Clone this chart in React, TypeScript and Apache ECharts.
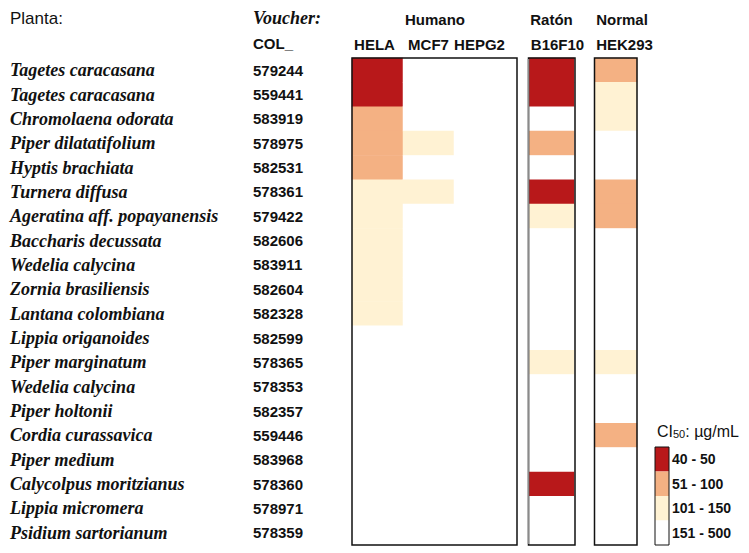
import React, { useEffect, useRef } from "react";
import * as echarts from "echarts";

// ---- data ----
const species = [
  "Tagetes caracasana",
  "Tagetes caracasana",
  "Chromolaena odorata",
  "Piper dilatatifolium",
  "Hyptis brachiata",
  "Turnera diffusa",
  "Ageratina aff. popayanensis",
  "Baccharis decussata",
  "Wedelia calycina",
  "Zornia brasiliensis",
  "Lantana colombiana",
  "Lippia origanoides",
  "Piper marginatum",
  "Wedelia calycina",
  "Piper holtonii",
  "Cordia curassavica",
  "Piper medium",
  "Calycolpus moritzianus",
  "Lippia micromera",
  "Psidium sartorianum",
];
const vouchers = [
  "579244", "559441", "583919", "578975", "582531", "578361", "579422", "582606", "583911", "582604",
  "582328", "582599", "578365", "578353", "582357", "559446", "583968", "578360", "578971", "578359",
];
const humanLines = ["HELA", "MCF7", "HEPG2"];
const mouseLines = ["B16F10"];
const normalLines = ["HEK293"];

const hela = [45, 45, 75, 75, 75, 125, 125, 125, 125, 125, 125, 300, 300, 300, 300, 300, 300, 300, 300, 300];
const mcf7 = [300, 300, 300, 125, 300, 125, 300, 300, 300, 300, 300, 300, 300, 300, 300, 300, 300, 300, 300, 300];
const hepg2 = [300, 300, 300, 300, 300, 300, 300, 300, 300, 300, 300, 300, 300, 300, 300, 300, 300, 300, 300, 300];
const b16f10 = [45, 45, 300, 75, 300, 45, 125, 300, 300, 300, 300, 300, 125, 300, 300, 300, 300, 45, 300, 300];
const hek293 = [75, 125, 125, 300, 300, 75, 75, 300, 300, 300, 300, 300, 125, 300, 300, 75, 300, 300, 300, 300];

const legendPieces = [
  { min: 40, max: 50, label: "40 - 50" },
  { min: 51, max: 100, label: "51 - 100" },
  { min: 101, max: 150, label: "101 - 150" },
  { min: 151, max: 500, label: "151 - 500" },
];

// ---- styles ----
const COLORS = ["#B8181A", "#F4B183", "#FFF2D3", "#FFFFFF"];
const SANS = "'Liberation Sans', Arial, sans-serif";
const SERIF = "'Liberation Serif', 'Times New Roman', serif";
const INK = "#111111";
const TOP = 58;
const H = 487;

function toCells(cols: number[][]) {
  const out: number[][] = [];
  cols.forEach((col, x) => col.forEach((v, y) => out.push([x, y, v])));
  return out;
}

export default function App() {
  const ref = useRef<HTMLDivElement>(null);
  useEffect(() => {
    if (!ref.current) return;
    const chart = echarts.init(ref.current, null, { renderer: "svg" });
    const headLabel = { fontFamily: SANS, fontWeight: "bold" as const, fontSize: 15, color: INK };
    const hiddenY = (gridIndex: number) => ({
      type: "category" as const,
      gridIndex,
      data: vouchers,
      inverse: true,
      show: false,
    });
    const topX = (gridIndex: number, data: any[], name: string, namePad: number[], labelPad: number[]) => ({
      type: "category" as const,
      gridIndex,
      position: "top" as const,
      data,
      name,
      nameLocation: "middle" as const,
      nameGap: 31,
      nameTextStyle: { ...headLabel, padding: namePad },
      axisLine: { show: false },
      axisTick: { show: false },
      splitLine: { show: false },
      axisLabel: { ...headLabel, margin: 6, padding: labelPad, interval: 0 },
    });
    const heat = (xAxisIndex: number, yAxisIndex: number, cols: number[][]) => ({
      type: "heatmap" as const,
      xAxisIndex,
      yAxisIndex,
      data: toCells(cols),
      itemStyle: { borderWidth: 0 },
      emphasis: { disabled: true },
      silent: true,
    });
    chart.setOption({
      animation: false,
      backgroundColor: "#ffffff",
      grid: [
        { left: 352, top: TOP, width: 153, height: H },
        { left: 529, top: TOP, width: 45, height: H },
        { left: 595, top: TOP, width: 42, height: H },
      ],
      xAxis: [
        topX(
          0,
          [
            { value: humanLines[0], textStyle: { padding: [0, 6, 0, 0] } },
            humanLines[1],
            humanLines[2],
          ],
          "Humano",
          [0, 0, 0, 13],
          [0, 0, 0, 0]
        ),
        topX(1, mouseLines, "Ratón", [0, 0, 0, 0], [0, 0, 0, 12]),
        topX(2, normalLines, "Normal", [0, 0, 0, 12], [0, 0, 0, 17]),
      ],
      yAxis: [
        {
          type: "category",
          gridIndex: 0,
          position: "left",
          data: vouchers,
          inverse: true,
          axisLine: { show: false },
          axisTick: { show: false },
          splitLine: { show: false },
          axisLabel: { ...headLabel, align: "left", margin: 99, interval: 0 },
        },
        {
          type: "category",
          gridIndex: 0,
          position: "left",
          offset: 0,
          data: vouchers,
          inverse: true,
          axisLine: { show: false },
          axisTick: { show: false },
          splitLine: { show: false },
          axisLabel: {
            fontFamily: SERIF,
            fontStyle: "italic",
            fontWeight: "bold",
            fontSize: 18,
            color: INK,
            align: "left",
            margin: 342,
            interval: 0,
            formatter: (_v: string, i: number) => species[i],
          },
        },
        hiddenY(1),
        hiddenY(2),
      ],
      visualMap: {
        type: "piecewise",
        seriesIndex: [0, 1, 2],
        pieces: legendPieces.map((p, i) => ({ ...p, color: COLORS[i] })),
        orient: "vertical",
        inverse: true,
        left: 655,
        top: 447,
        padding: 0,
        itemWidth: 14,
        itemHeight: 24.5,
        itemGap: 0,
        itemSymbol: "rect",
        textGap: 3,
        align: "left",
        hoverLink: false,
        selectedMode: false,
        textStyle: { fontFamily: SANS, fontWeight: "bold", fontSize: 14, color: INK },
      },
      series: [
        heat(0, 0, [hela, mcf7, hepg2]),
        heat(1, 2, [b16f10]),
        heat(2, 3, [hek293]),
      ],
      graphic: [
        {
          type: "text",
          left: 10,
          top: 10,
          style: { text: "Planta:", fontFamily: SANS, fontSize: 17, fill: INK },
        },
        {
          type: "text",
          left: 253,
          top: 9,
          style: {
            text: "Voucher:",
            fontFamily: SERIF,
            fontStyle: "italic",
            fontWeight: "bold",
            fontSize: 18,
            fill: INK,
          },
        },
        {
          type: "text",
          left: 253,
          top: 36,
          style: { text: "COL_", fontFamily: SANS, fontWeight: "bold", fontSize: 15, fill: INK },
        },
        {
          type: "text",
          left: 657,
          top: 423,
          style: {
            text: "{a|CI}{b|50}{a|: µg/mL}",
            rich: {
              a: { fontFamily: SANS, fontSize: 16, fill: INK, verticalAlign: "bottom" },
              b: { fontFamily: SANS, fontSize: 11, fill: INK, verticalAlign: "bottom" },
            },
          },
        },
        {
          type: "rect",
          shape: { x: 352, y: TOP, width: 165, height: H },
          style: { fill: "none", stroke: INK, lineWidth: 1.5 },
          z: 100,
          silent: true,
        },
        {
          type: "rect",
          shape: { x: 528.5, y: TOP, width: 46.5, height: H },
          style: { fill: "none", stroke: INK, lineWidth: 1.5 },
          z: 100,
          silent: true,
        },
        {
          type: "line",
          shape: { x1: 528.5, y1: TOP + 1, x2: 528.5, y2: TOP + H - 1 },
          style: { stroke: "#8a8a8a", lineWidth: 1.5 },
          z: 101,
          silent: true,
        },
        {
          type: "rect",
          shape: { x: 594.5, y: TOP, width: 42.5, height: H },
          style: { fill: "none", stroke: INK, lineWidth: 1.5 },
          z: 100,
          silent: true,
        },
        {
          type: "rect",
          shape: { x: 655, y: 447, width: 14, height: 98 },
          style: { fill: "none", stroke: INK, lineWidth: 1 },
          z: 100,
          silent: true,
        },
      ],
    });
    return () => chart.dispose();
  }, []);
  return (
    <div
      ref={ref}
      style={{ position: "fixed", left: 0, top: 0, width: 749, height: 553, background: "#fff" }}
    />
  );
}
